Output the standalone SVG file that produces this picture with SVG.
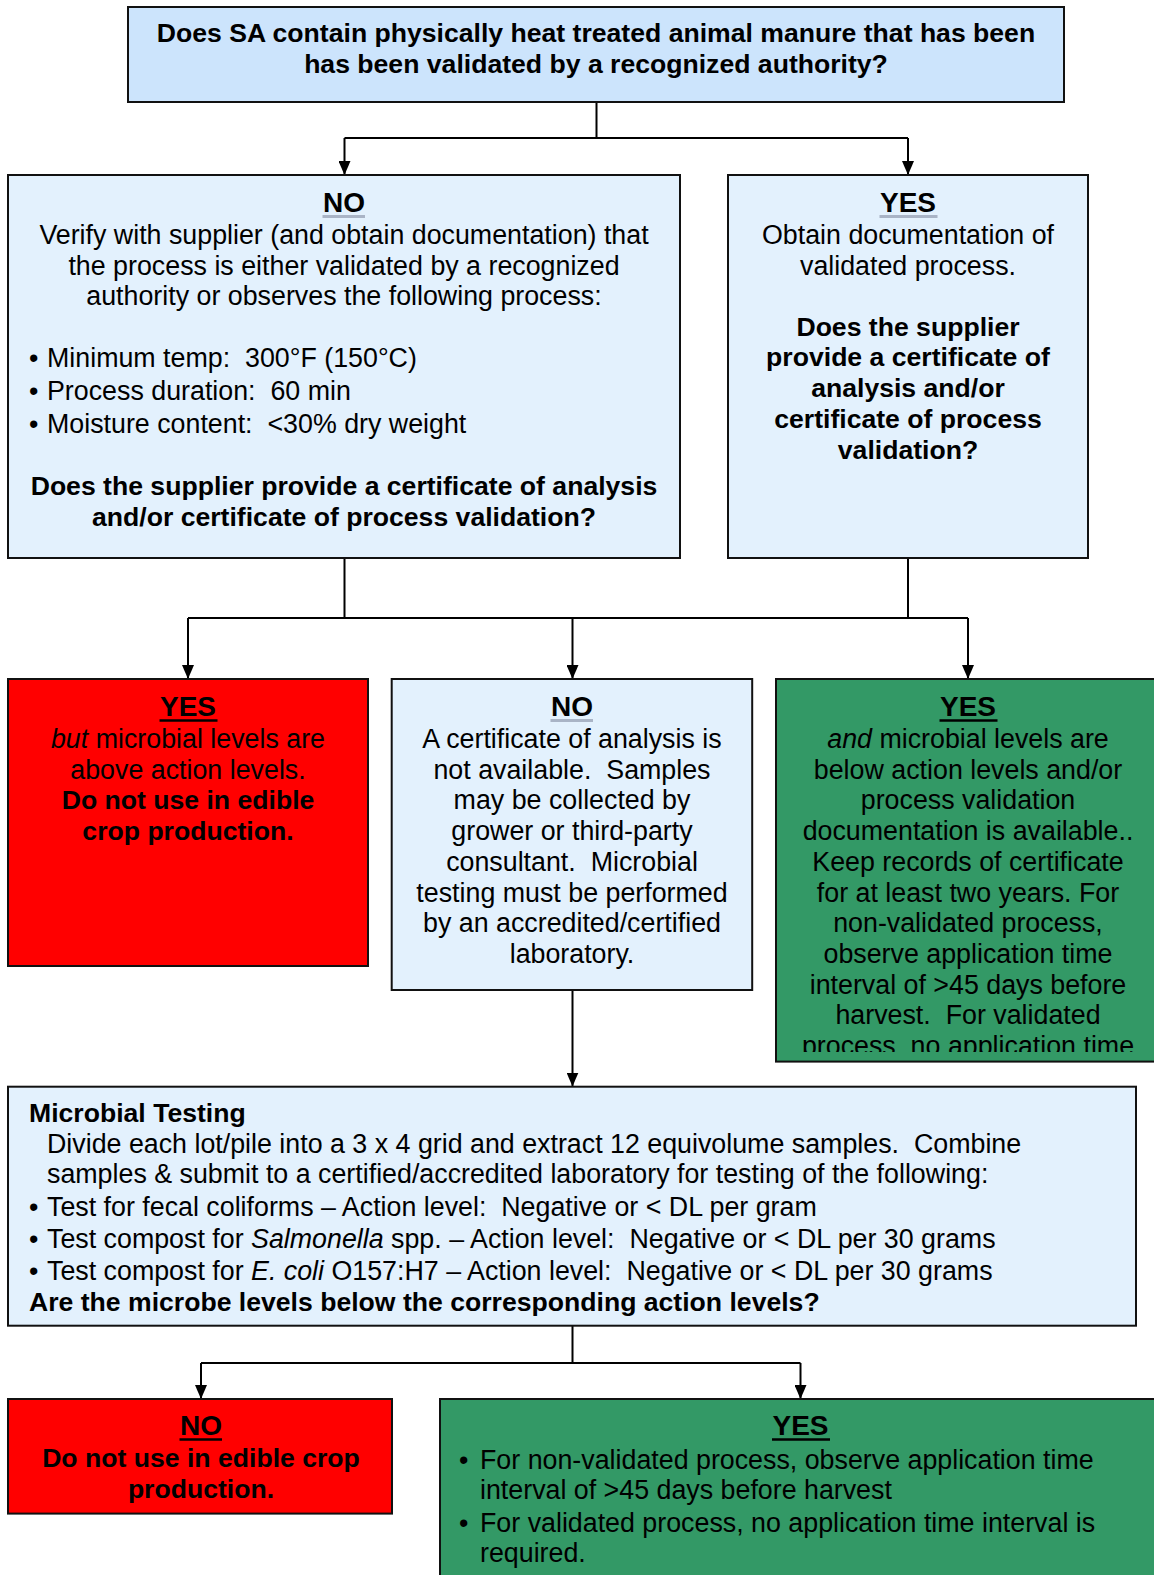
<svg xmlns="http://www.w3.org/2000/svg" width="1154" height="1575" viewBox="0 0 1154 1575" xml:space="preserve">
<style>
.box{stroke:#111;stroke-width:2}
.lb{fill:#e3f1fd}
.tb{fill:#cce4fc}
.red{fill:#ff0000}
.grn{fill:#339966}
text{font-family:"Liberation Sans",Arial,sans-serif;font-size:26.8px;fill:#000;white-space:pre}
.c{text-anchor:middle}
.b{font-weight:bold;font-size:26.6px}
.i{font-style:italic}
.h{font-weight:bold;font-size:28px;text-anchor:middle}
.ul{stroke:#000;stroke-width:2.5}
.ulg{stroke:#a9b4c6;stroke-width:3}
.con{stroke:#000;stroke-width:2;fill:none}
</style>
<defs>
<marker id="arr" viewBox="0 0 14 12" refX="14" refY="6" markerWidth="14" markerHeight="12" orient="auto" markerUnits="userSpaceOnUse">
<path d="M0,0 L14,6 L0,12 z" fill="#000"/>
</marker>
<clipPath id="gclip"><rect x="776" y="679" width="400" height="373"/></clipPath>
</defs>
<g id="connectors">
<path class="con" d="M596.5,102 V138 M344.5,138 H908"/>
<path class="con" d="M344.5,138 V175" marker-end="url(#arr)"/>
<path class="con" d="M908,138 V175" marker-end="url(#arr)"/>
<path class="con" d="M344.5,558 V618 M908,558 V618 M188,618 H968"/>
<path class="con" d="M188,618 V679" marker-end="url(#arr)"/>
<path class="con" d="M572.5,618 V679" marker-end="url(#arr)"/>
<path class="con" d="M968,618 V679" marker-end="url(#arr)"/>
<path class="con" d="M572.5,990 V1086.5" marker-end="url(#arr)"/>
<path class="con" d="M572.5,1326 V1363 M201,1363 H800.5"/>
<path class="con" d="M201,1363 V1399" marker-end="url(#arr)"/>
<path class="con" d="M800.5,1363 V1399" marker-end="url(#arr)"/>
</g>
<g id="q1">
<rect class="box tb" x="128" y="7" width="936" height="95"/>
<text class="b c" x="596" y="41.8">Does SA contain physically heat treated animal manure that has been</text>
<text class="b c" x="596" y="73">has been validated by a recognized authority?</text>
</g>
<g id="no1">
<rect class="box lb" x="8" y="175" width="672" height="383"/>
<text class="h" x="344" y="212">NO</text>
<line class="ulg" x1="322.5" y1="216.5" x2="365" y2="216.5"/>
<text class="c" x="344" y="243.7">Verify with supplier (and obtain documentation) that</text>
<text class="c" x="344" y="274.9">the process is either validated by a recognized</text>
<text class="c" x="344" y="305">authority or observes the following process:</text>
<text x="29" y="367.2">•</text><text x="47" y="367.2">Minimum temp:  300°F (150°C)</text>
<text x="29" y="400.4">•</text><text x="47" y="400.4">Process duration:  60 min</text>
<text x="29" y="432.6">•</text><text x="47" y="432.6">Moisture content:  &lt;30% dry weight</text>
<text class="b c" x="344" y="494.8">Does the supplier provide a certificate of analysis</text>
<text class="b c" x="344" y="526">and/or certificate of process validation?</text>
</g>
<g id="yes1">
<rect class="box lb" x="728" y="175" width="360" height="383"/>
<text class="h" x="908" y="212">YES</text>
<line class="ulg" x1="879.5" y1="216.5" x2="937.5" y2="216.5"/>
<text class="c" x="908" y="243.7">Obtain documentation of</text>
<text class="c" x="908" y="274.9">validated process.</text>
<text class="b c" x="908" y="336.2">Does the supplier</text>
<text class="b c" x="908" y="366.2">provide a certificate of</text>
<text class="b c" x="908" y="397.4">analysis and/or</text>
<text class="b c" x="908" y="427.5">certificate of process</text>
<text class="b c" x="908" y="458.7">validation?</text>
</g>
<g id="yesRed">
<rect class="box red" x="8" y="679" width="360" height="287"/>
<text class="h" x="188" y="716">YES</text>
<line class="ul" x1="159.5" y1="720.5" x2="217.5" y2="720.5"/>
<text class="c" x="188" y="747.9"><tspan class="i">but</tspan> microbial levels are</text>
<text class="c" x="188" y="779.2">above action levels.</text>
<text class="b c" x="188" y="809.2">Do not use in edible</text>
<text class="b c" x="188" y="840.2">crop production.</text>
</g>
<g id="noMid">
<rect class="box lb" x="391.7" y="679" width="360.5" height="311"/>
<text class="h" x="572" y="716">NO</text>
<line class="ulg" x1="550.5" y1="720.5" x2="593" y2="720.5"/>
<text class="c" x="572" y="747.9">A certificate of analysis is</text>
<text class="c" x="572" y="779.2">not available.  Samples</text>
<text class="c" x="572" y="809.2">may be collected by</text>
<text class="c" x="572" y="840.2">grower or third-party</text>
<text class="c" x="572" y="870.5">consultant.  Microbial</text>
<text class="c" x="572" y="901.6">testing must be performed</text>
<text class="c" x="572" y="931.7">by an accredited/certified</text>
<text class="c" x="572" y="962.9">laboratory.</text>
</g>
<g id="yesGreen">
<rect class="box grn" x="776" y="679" width="390" height="382.6"/>
<g clip-path="url(#gclip)">
<text class="h" x="968" y="716">YES</text>
<line class="ul" x1="939.5" y1="720.5" x2="997.5" y2="720.5"/>
<text class="c" x="968" y="747.9"><tspan class="i">and</tspan> microbial levels are</text>
<text class="c" x="968" y="779.2">below action levels and/or</text>
<text class="c" x="968" y="809.2">process validation</text>
<text class="c" x="968" y="840.2">documentation is available..</text>
<text class="c" x="968" y="870.5">Keep records of certificate</text>
<text class="c" x="968" y="901.6">for at least two years. For</text>
<text class="c" x="968" y="931.7">non-validated process,</text>
<text class="c" x="968" y="962.9">observe application time</text>
<text class="c" x="968" y="994">interval of &gt;45 days before</text>
<text class="c" x="968" y="1024.2">harvest.  For validated</text>
<text class="c" x="968" y="1055.2">process, no application time</text>
</g>
</g>
<g id="micro">
<rect class="box lb" x="8" y="1086.7" width="1128" height="239"/>
<text class="b" x="29" y="1121.6">Microbial Testing</text>
<text x="47" y="1152.7">Divide each lot/pile into a 3 x 4 grid and extract 12 equivolume samples.  Combine</text>
<text x="47" y="1182.8">samples &amp; submit to a certified/accredited laboratory for testing of the following:</text>
<text x="29" y="1216">•</text><text x="47" y="1216">Test for fecal coliforms – Action level:  Negative or &lt; DL per gram</text>
<text x="29" y="1248.2">•</text><text x="47" y="1248.2">Test compost for <tspan class="i">Salmonella</tspan> spp. – Action level:  Negative or &lt; DL per 30 grams</text>
<text x="29" y="1280.2">•</text><text x="47" y="1280.2">Test compost for <tspan class="i">E. coli</tspan> O157:H7 – Action level:  Negative or &lt; DL per 30 grams</text>
<text class="b" x="29" y="1311.4">Are the microbe levels below the corresponding action levels?</text>
</g>
<g id="noRed">
<rect class="box red" x="8" y="1399" width="384" height="114.6"/>
<text class="h" x="201" y="1435">NO</text>
<line class="ul" x1="179.5" y1="1439.5" x2="222" y2="1439.5"/>
<text class="b c" x="201" y="1467.2">Do not use in edible crop</text>
<text class="b c" x="201" y="1498.2">production.</text>
</g>
<g id="yesFinal">
<rect class="box grn" x="440" y="1399" width="730" height="200"/>
<text class="h" x="800.5" y="1435">YES</text>
<line class="ul" x1="772" y1="1439.5" x2="830" y2="1439.5"/>
<text x="459" y="1469.2">•</text><text x="480" y="1469.2">For non-validated process, observe application time</text>
<text x="480" y="1499.2">interval of &gt;45 days before harvest</text>
<text x="459" y="1532.2">•</text><text x="480" y="1532.2">For validated process, no application time interval is</text>
<text x="480" y="1562.2">required.</text>
</g>
</svg>
